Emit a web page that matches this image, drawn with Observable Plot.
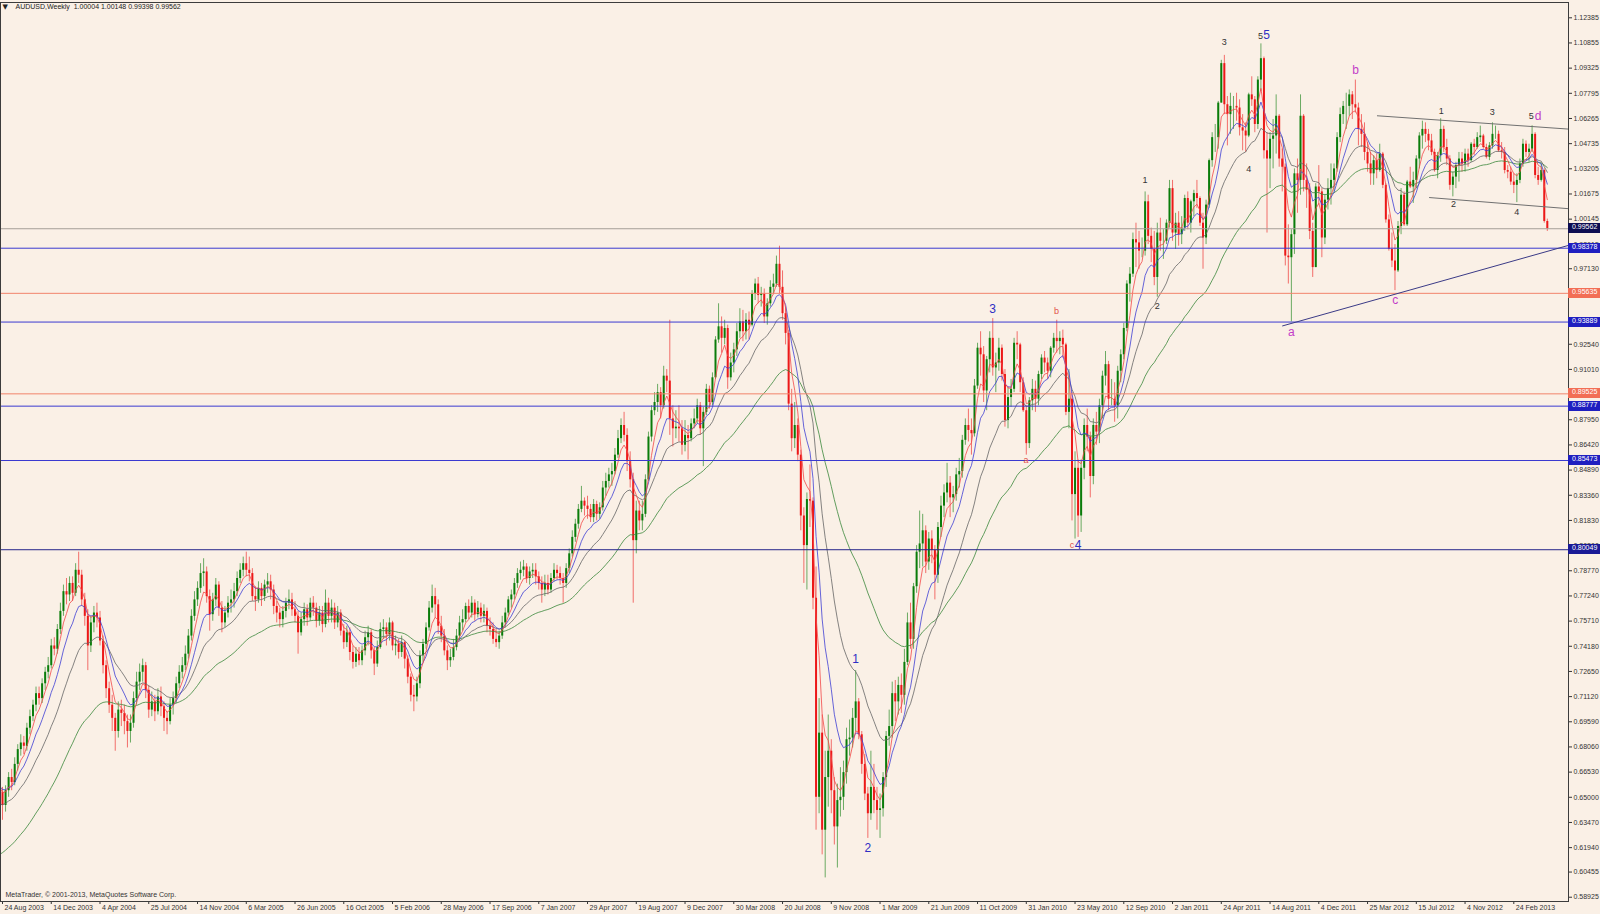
<!DOCTYPE html>
<html><head><meta charset="utf-8">
<script src="https://cdn.jsdelivr.net/npm/d3@7"></script>
<script src="https://cdn.jsdelivr.net/npm/@observablehq/plot@0.6"></script>
<style>
html,body{margin:0;padding:0;background:#faf0e6;}
#chart{position:relative;width:1600px;height:914px;overflow:hidden;background:#faf0e6;}
.lvl{position:absolute;left:1568px;width:32px;height:10px;line-height:10px;font:7px "Liberation Sans",Arial,sans-serif;color:#fff;padding-left:4px;box-sizing:border-box;}
</style></head><body><div id="chart"></div>
<script>
// ---- symbol / last bar ----
const symbolName = "AUDUSD,Weekly";
const copyright = "MetaTrader, \u00a9 2001-2013, MetaQuotes Software Corp.";

// ---- x-axis: one label every 16 weekly bars, starting at bar 0 ----
const xTickLabels = ["24 Aug 2003","14 Dec 2003","4 Apr 2004","25 Jul 2004","14 Nov 2004","6 Mar 2005","26 Jun 2005","16 Oct 2005","5 Feb 2006","28 May 2006","17 Sep 2006","7 Jan 2007","29 Apr 2007","19 Aug 2007","9 Dec 2007","30 Mar 2008","20 Jul 2008","9 Nov 2008","1 Mar 2009","21 Jun 2009","11 Oct 2009","31 Jan 2010","23 May 2010","12 Sep 2010","2 Jan 2011","24 Apr 2011","14 Aug 2011","4 Dec 2011","25 Mar 2012","15 Jul 2012","4 Nov 2012","24 Feb 2013"];
const barsPerLabel = 16;

// ---- y-axis tick labels ----
const yTickLabels = [1.12385,1.10855,1.09325,1.07795,1.06265,1.04735,1.03205,1.01675,1.00145,0.98615,0.97130,0.92540,0.91010,0.87950,0.86420,0.84890,0.83360,0.81830,0.80300,0.78770,0.77240,0.75710,0.74180,0.72650,0.71120,0.69590,0.68060,0.66530,0.65000,0.63470,0.61940,0.60455,0.58925];

// ---- weekly OHLC in pips (x 1e-4), bar 0 = week of 24 Aug 2003 ----
const wkOpen = [
6530,6450,6540,6620,6590,6700,6790,6830,6810,6920,6990,7060,7130,7100,7190,7260,
7300,7420,7400,7520,7630,7750,7730,7800,7740,7880,7850,7700,7600,7420,7560,7620,
7590,7450,7300,7160,7060,6980,6900,7030,7010,6960,6900,6950,7100,7200,7260,7300,
7150,7030,7080,7020,7110,7050,6980,6960,7060,7100,7190,7260,7300,7370,7480,7600,
7700,7770,7860,7870,7720,7610,7700,7790,7650,7560,7620,7680,7700,7750,7830,7880,
7920,7880,7860,7720,7700,7770,7720,7790,7810,7760,7660,7620,7580,7630,7680,7700,
7640,7600,7500,7580,7640,7590,7680,7650,7570,7620,7550,7680,7600,7650,7560,7620,
7510,7440,7500,7380,7320,7370,7330,7390,7470,7500,7390,7310,7410,7520,7530,7490,
7560,7420,7430,7380,7440,7340,7230,7120,7110,7190,7360,7430,7530,7650,7720,7670,
7540,7480,7390,7330,7350,7410,7480,7560,7580,7660,7620,7680,7610,7650,7600,7630,
7540,7520,7460,7440,7480,7560,7620,7700,7730,7800,7860,7880,7900,7830,7870,7880,
7840,7800,7760,7800,7760,7830,7880,7860,7830,7800,7890,7980,8080,8160,8250,8300,
8270,8250,8200,8280,8220,8260,8380,8420,8460,8480,8580,8680,8760,8700,8540,8430,
8060,8240,8180,8220,8430,8690,8850,8900,8960,8880,9060,9030,8800,8740,8750,8740,
8640,8700,8680,8770,8800,8880,8740,8840,8980,8900,9050,9280,9360,9290,9350,9050,
9140,9220,9330,9390,9330,9400,9370,9560,9620,9550,9560,9420,9500,9600,9620,9740,
9600,9440,9320,8890,8680,8760,8580,8210,8030,8310,8300,7710,6500,6890,6300,6620,
6780,6540,6320,6480,6500,6650,6850,6860,6980,7080,6880,6700,6520,6400,6560,6480,
6420,6430,6620,6870,6930,7130,7080,7180,7120,7320,7560,7460,7780,7990,8040,8120,
7930,8070,8000,7850,8140,8270,8350,8410,8320,8340,8460,8480,8670,8760,8730,8710,
9000,9230,9190,8970,9160,9290,9110,9140,9230,9070,8790,8930,8980,9260,9250,9020,
8850,8650,8910,8980,8920,9070,9170,9140,9090,9230,9290,9270,9290,9250,8840,8920,
8340,8500,8210,8500,8760,8690,8450,8760,8720,8880,9060,9130,8920,8920,8880,9090,
9190,9350,9620,9680,9890,9870,9820,9820,10120,9910,9830,9660,9930,9880,9880,9990,
10200,9930,9990,9920,9960,10140,9990,10120,10170,10140,9990,9900,10100,10370,10510,10510,
10720,10960,10710,10650,10700,10700,10690,10570,10550,10520,10770,10740,10590,10860,10990,10430,
10380,10500,10520,10640,10380,10330,9790,9780,9920,10290,10250,10640,10250,10190,9940,9720,
10210,10180,9900,10130,10200,10250,10320,10510,10650,10700,10700,10770,10710,10690,10560,10530,
10420,10350,10290,10370,10310,10410,10220,10010,9830,9760,9700,9970,10160,9980,10240,10210,
10250,10380,10520,10560,10530,10490,10420,10310,10400,10560,10450,10380,10220,10270,10340,10380,
10350,10410,10370,10470,10450,10510,10520,10450,10390,10460,10530,10530,10430,10420,10310,10300,
10240,10220,10250,10350,10470,10420,10440,10530,10280,10250,10310,10000.4];
const wkHigh = [
6560,6570,6650,6670,6740,6820,6880,6870,6950,7030,7090,7170,7170,7220,7290,7350,
7460,7470,7550,7680,7790,7830,7840,7840,7920,7990,7880,7740,7640,7600,7660,7680,
7630,7480,7330,7200,7120,7010,7080,7090,7060,7000,7000,7140,7260,7310,7340,7320,
7180,7140,7120,7160,7170,7080,7020,7100,7140,7230,7300,7350,7420,7520,7640,7750,
7810,7920,7950,7900,7760,7740,7830,7810,7690,7660,7720,7760,7800,7870,7920,7960,
7990,7960,7890,7780,7810,7800,7820,7860,7850,7790,7690,7650,7660,7710,7760,7740,
7690,7630,7620,7680,7670,7710,7720,7680,7660,7660,7760,7710,7700,7680,7660,7640,
7550,7540,7530,7420,7410,7410,7420,7510,7540,7520,7410,7450,7560,7580,7560,7590,
7570,7480,7460,7480,7450,7360,7250,7180,7230,7390,7460,7560,7690,7790,7770,7700,
7600,7520,7420,7400,7460,7520,7600,7640,7680,7700,7720,7700,7690,7680,7670,7650,
7590,7560,7520,7510,7600,7650,7720,7760,7830,7890,7930,7940,7920,7900,7920,7920,
7870,7840,7850,7850,7860,7920,7910,7900,7860,7920,8010,8120,8190,8280,8390,8320,
8330,8280,8310,8300,8290,8420,8470,8500,8530,8620,8730,8800,8840,8740,8600,8470,
8300,8300,8300,8460,8720,8880,8960,9010,8990,9120,9100,9400,8880,8850,8880,8790,
8790,8760,8800,8860,8920,8900,8870,9010,9000,9080,9300,9500,9420,9400,9370,9200,
9260,9380,9470,9460,9440,9450,9580,9650,9660,9600,9590,9530,9640,9680,9790,9850,
9700,9480,9340,8980,8900,8800,8610,8260,8350,8520,8320,7900,7100,7000,6780,7000,
6850,6620,6580,6680,6720,6920,6970,7040,7270,7100,6900,6760,6560,6780,6700,6560,
6520,6650,6900,7030,7200,7210,7230,7250,7400,7620,7680,7800,8030,8240,8220,8150,
8110,8120,8030,8170,8330,8400,8530,8450,8390,8500,8560,8700,8800,8860,8800,9040,
9260,9330,9240,9180,9330,9410,9200,9290,9250,9100,8990,9040,9290,9330,9260,9050,
8880,8930,9040,9030,9090,9190,9210,9170,9240,9320,9400,9330,9340,9260,9100,8960,
8600,8550,8550,8800,8860,8720,8800,8840,8920,9090,9210,9150,9040,9020,9120,9220,
9380,9640,9720,9930,9990,9940,9900,10180,10160,9960,9940,9990,10020,9950,10010,10250,
10250,10050,10060,10030,10160,10180,10130,10190,10250,10150,10050,10130,10380,10540,10590,10730,
10980,11010,10760,10780,10760,10780,10740,10650,10600,10780,10880,10760,10880,11080,11000,10540,
10540,10620,10770,10650,10440,10350,9980,9950,10320,10380,10770,10650,10350,10230,9990,10230,
10340,10200,10160,10260,10350,10350,10540,10690,10730,10780,10800,10790,10860,10720,10650,10600,
10480,10420,10400,10410,10470,10420,10230,10040,9930,9860,10000,10200,10180,10250,10330,10300,
10400,10540,10610,10600,10560,10530,10440,10420,10625,10580,10500,10400,10300,10360,10420,10420,
10440,10440,10480,10500,10540,10580,10530,10470,10480,10600,10580,10550,10480,10450,10340,10330,
10290,10290,10380,10500,10490,10470,10582,10540,10330,10350,10320,10014.8];
const wkLow = [
6360,6410,6500,6540,6570,6660,6750,6760,6780,6880,6960,7020,7060,7070,7150,7220,
7280,7360,7370,7490,7600,7670,7690,7690,7720,7800,7660,7540,7270,7380,7500,7530,
7420,7250,7100,7010,6900,6780,6860,6930,6880,6800,6830,6920,7060,7150,7200,7100,
6980,6990,6960,7000,6990,6900,6880,6940,7000,7070,7160,7220,7270,7340,7450,7570,
7660,7740,7780,7680,7510,7570,7660,7600,7500,7530,7590,7620,7650,7720,7800,7840,
7840,7810,7690,7630,7680,7660,7690,7740,7700,7610,7560,7530,7530,7590,7640,7600,
7560,7370,7480,7540,7540,7570,7600,7530,7540,7500,7530,7560,7560,7520,7530,7480,
7400,7410,7330,7280,7290,7300,7300,7360,7420,7340,7240,7290,7400,7460,7420,7450,
7390,7360,7340,7350,7280,7190,7080,7020,7080,7160,7320,7400,7510,7620,7590,7490,
7440,7360,7270,7290,7330,7390,7450,7510,7560,7580,7590,7570,7590,7560,7560,7500,
7480,7430,7410,7400,7460,7530,7600,7650,7700,7770,7820,7840,7800,7790,7830,7790,
7760,7680,7720,7730,7740,7810,7820,7790,7680,7770,7860,7960,8050,8130,8230,8210,
8190,8170,8170,8180,8190,8240,8330,8380,8390,8460,8560,8650,8660,8480,8380,7680,
7980,8120,8120,8200,8420,8660,8820,8840,8800,8860,8960,8700,8630,8680,8660,8580,
8600,8550,8660,8740,8770,8700,8510,8820,8860,8880,9040,9260,9200,9250,8980,9030,
9080,9180,9290,9270,9280,9280,9360,9520,9500,9480,9380,9370,9480,9560,9600,9560,
9400,9250,8850,8600,8620,8540,8120,7800,7760,8140,7640,6300,6400,6150,6010,6440,
6400,6210,6070,6380,6420,6580,6750,6800,6900,6850,6640,6480,6250,6360,6400,6300,
6250,6380,6560,6810,6860,6960,7000,7010,7060,7300,7400,7400,7740,7890,7900,7860,
7880,7920,7700,7800,8080,8200,8290,8200,8230,8300,8380,8440,8640,8660,8580,8690,
8980,9060,8900,8850,9080,9060,8960,9090,9030,8750,8740,8870,8960,9160,8960,8840,
8580,8620,8850,8840,8880,9040,9080,9040,9050,9200,9200,9190,9170,8820,8740,8180,
8070,8080,8110,8430,8600,8320,8400,8640,8650,8800,9000,8850,8880,8780,8800,9020,
9160,9330,9510,9660,9720,9710,9780,9790,9860,9750,9610,9540,9820,9770,9860,9960,
9880,9830,9850,9860,9940,9950,9930,10030,10080,9970,9710,9860,10080,10330,10420,10440,
10720,10650,10460,10530,10560,10610,10520,10430,10420,10510,10700,10540,10560,10790,10380,9930,
10200,10320,10410,10330,10180,9730,9620,9390,9800,10050,10160,10180,10080,9890,9660,9720,
10100,9780,9860,10070,10100,10180,10300,10480,10590,10560,10640,10620,10660,10460,10450,10370,
10300,10220,10220,10260,10300,10200,9990,9820,9720,9580,9690,9920,9970,9970,10200,10110,
10200,10320,10440,10480,10430,10400,10300,10260,10360,10420,10340,10190,10150,10200,10240,10300,
10300,10330,10360,10400,10440,10480,10440,10380,10370,10440,10500,10420,10380,10290,10260,10220,
10170,10115,10230,10330,10390,10360,10420,10260,10220,10240,9990,9939.8];
const wkClose = [
6450,6540,6620,6590,6700,6790,6830,6810,6920,6990,7060,7130,7100,7190,7260,7300,
7420,7400,7520,7630,7750,7730,7800,7740,7880,7850,7700,7600,7420,7560,7620,7590,
7450,7300,7160,7060,6980,6900,7030,7010,6960,6900,6950,7100,7200,7260,7300,7150,
7030,7080,7020,7110,7050,6980,6960,7060,7100,7190,7260,7300,7370,7480,7600,7700,
7770,7860,7870,7720,7610,7700,7790,7650,7560,7620,7680,7700,7750,7830,7880,7920,
7880,7860,7720,7700,7770,7720,7790,7810,7760,7660,7620,7580,7630,7680,7700,7640,
7600,7500,7580,7640,7590,7680,7650,7570,7620,7550,7680,7600,7650,7560,7620,7510,
7440,7500,7380,7320,7370,7330,7390,7470,7500,7390,7310,7410,7520,7530,7490,7560,
7420,7430,7380,7440,7340,7230,7120,7110,7190,7360,7430,7530,7650,7720,7670,7540,
7480,7390,7330,7350,7410,7480,7560,7580,7660,7620,7680,7610,7650,7600,7630,7540,
7520,7460,7440,7480,7560,7620,7700,7730,7800,7860,7880,7900,7830,7870,7880,7840,
7800,7760,7800,7760,7830,7880,7860,7830,7800,7890,7980,8080,8160,8250,8300,8270,
8250,8200,8280,8220,8260,8380,8420,8460,8480,8580,8680,8760,8700,8540,8430,8060,
8240,8180,8220,8430,8690,8850,8900,8960,8880,9060,9030,8800,8740,8750,8740,8640,
8700,8680,8770,8800,8880,8740,8840,8980,8900,9050,9280,9360,9290,9350,9050,9140,
9220,9330,9390,9330,9400,9370,9560,9620,9550,9560,9420,9500,9600,9620,9740,9600,
9440,9320,8890,8680,8760,8580,8210,8030,8310,8300,7710,6500,6890,6300,6620,6780,
6540,6320,6480,6500,6650,6850,6860,6980,7080,6880,6700,6520,6400,6560,6480,6420,
6430,6620,6870,6930,7130,7080,7180,7120,7320,7560,7460,7780,7990,8040,8120,7930,
8070,8000,7850,8140,8270,8350,8410,8320,8340,8460,8480,8670,8760,8730,8710,9000,
9230,9190,8970,9160,9290,9110,9140,9230,9070,8790,8930,8980,9260,9250,9020,8850,
8650,8910,8980,8920,9070,9170,9140,9090,9230,9290,9270,9290,9250,8840,8920,8340,
8500,8210,8500,8760,8690,8450,8760,8720,8880,9060,9130,8920,8920,8880,9090,9190,
9350,9620,9680,9890,9870,9820,9820,10120,9910,9830,9660,9930,9880,9880,9990,10200,
9930,9990,9920,9960,10140,9990,10120,10170,10140,9990,9900,10100,10370,10510,10510,10720,
10960,10710,10650,10700,10700,10690,10570,10550,10520,10770,10740,10590,10860,10990,10430,10380,
10500,10520,10640,10380,10330,9790,9780,9920,10290,10250,10640,10250,10190,9940,9720,10210,
10180,9900,10130,10200,10250,10320,10510,10650,10700,10700,10770,10710,10690,10560,10530,10420,
10350,10290,10370,10310,10410,10220,10010,9830,9760,9700,9970,10160,9980,10240,10210,10250,
10380,10520,10560,10530,10490,10420,10310,10400,10560,10450,10380,10220,10270,10340,10380,10350,
10410,10370,10470,10450,10510,10520,10450,10390,10460,10530,10530,10430,10420,10310,10300,10240,
10220,10250,10350,10470,10420,10440,10530,10280,10250,10310,10000.4,9956.2];
// closes of the 50 weeks before the first visible bar (off-chart; only feed the moving averages)
const priorClose = [5450,5440,5470,5430,5450,5420,5480,5520,5540,5560,5620,5640,5600,5630,5660,5590,5620,5630,5720,5810,5860,5880,5970,5960,6040,6070,6050,6000,5950,6030,6100,6150,6260,6260,6380,6510,6530,6550,6600,6640,6730,6720,6680,6650,6700,6620,6550,6540,6530,6560];

// ---- exponential moving-average periods ----
const maPeriods = [50, 21, 10, 5];

// ---- horizontal levels drawn on the chart ----
const levelValues = [0.99562, 0.98378, 0.95635, 0.93889, 0.89525, 0.88777, 0.85473, 0.80049];
const levelKinds  = ["bid", "blue", "salmon", "blue", "salmon", "blue", "blue", "navy"];

// ---- trend lines (bar index, price) ----
const trendFrom = [[451.1, 1.0643], [468.2, 1.0146], [420.0, 0.9365]];
const trendTo   = [[513.95, 1.0562], [513.95, 1.0078], [513.95, 0.9855]];
const trendKinds = ["grey", "grey", "navy"];

// ---- wave labels (text, bar index, price) ----
const waveBlue    = [["1",280,0.7342],["2",284,0.6189],["3",324.9,0.9470],["4",353,0.8034],["5",414.9,1.1133]];
const waveBlack   = [["1",375,1.0252],["2",379,0.9488],["3",401,1.1089],["4",409,1.0319],["5",412.9,1.1126],["1",472.2,1.0674],["2",476.2,1.0103],["3",488.9,1.0668],["4",497,1.0060],["5",501.7,1.0643]];
const waveMagenta = [["a",423,0.9327],["b",444.1,1.0922],["c",457.1,0.9525],["d",504,1.0643]];
const waveRed     = [["a",335.9,0.8552],["b",345.9,0.9458],["c",351,0.8034]];

// ================= build =================
const P = 1e4;
const bars = wkClose.map((c, i) => ({i, open: wkOpen[i]/P, high: wkHigh[i]/P, low: wkLow[i]/P, close: c/P}));
const maRows = priorClose.map((c, k) => ({i: k - priorClose.length, close: c/P}))
  .concat(bars.map(d => ({i: d.i, close: d.close})));
// exponential moving averages of the closes (indicator lines)
maPeriods.forEach(k => {
  const a = 2 / (k + 1);
  let e;
  maRows.forEach(r => { e = (e === undefined) ? r.close : a * r.close + (1 - a) * e; r["ema" + k] = e; });
});
const last = bars[bars.length - 1];
const title = `${symbolName}\u00a0\u00a0${last.open.toFixed(5)} ${last.high.toFixed(5)} ${last.low.toFixed(5)} ${last.close.toFixed(5)}`;

const BULL = "#0a7c0a", BEAR = "#ec1818";
const maColor = {50: "#3c883c", 21: "#666666", 10: "#4040d4", 5: "#f24848"};
const levelLine = {bid: "#a59f98", blue: "#3a3ad0", salmon: "#f2846c", navy: "#24248a"};
const levelBox  = {bid: "#0d0d52", blue: "#1f1fc0", salmon: "#f26e55", navy: "#1a1a96"};
const trendColor = {grey: "#707070", navy: "#3a3a86"};
const FONT = "Liberation Sans, Arial, sans-serif";

const levels = levelValues.map((v, k) => ({value: v, kind: levelKinds[k]}));
const trends = trendFrom.map((a, k) => ({x1: a[0], y1: a[1], x2: trendTo[k][0], y2: trendTo[k][1], kind: trendKinds[k]}));
const toLab = arr => arr.map(([t, i, p]) => ({t, i, p}));

const W = 1600, H = 914;
const xTicks = xTickLabels.map((_, k) => k * barsPerLabel);
const dir = d => d.close >= d.open ? BULL : BEAR;

const plot = Plot.plot({
  width: W, height: H,
  marginLeft: 0, marginRight: 32, marginTop: 2, marginBottom: 13,
  style: {background: "#faf0e6", fontFamily: FONT, fontSize: "7px", color: "#333"},
  x: {domain: [-0.66, 513.95], axis: "bottom", ticks: xTicks, tickFormat: () => "", tickSize: 3, label: null},
  y: {domain: [0.58665, 1.13315], axis: "right", ticks: yTickLabels, tickFormat: d => d.toFixed(5), tickSize: 3, tickPadding: 2, label: null},
  marks: [
    // candles
    Plot.ruleX(bars, {x: "i", y1: "low", y2: "high", stroke: dir, strokeWidth: 1, strokeOpacity: 0.6}),
    Plot.ruleX(bars, {x: "i", y1: "open", y2: "close", stroke: dir, strokeWidth: 2}),
    // moving averages
    ...maPeriods.map(k => Plot.lineY(maRows, {x: "i", y: "ema" + k, stroke: maColor[k], strokeWidth: 1, strokeOpacity: 0.8, clip: true})),
    // horizontal levels
    Plot.ruleY(levels, {y: "value", stroke: d => levelLine[d.kind], strokeWidth: 1}),
    // trend lines
    Plot.link(trends, {x1: "x1", y1: "y1", x2: "x2", y2: "y2", stroke: d => trendColor[d.kind], strokeWidth: 1, clip: true}),
    // wave labels
    Plot.text(toLab(waveBlue), {x: "i", y: "p", text: "t", fill: "#2e2ec4", fontSize: 12, fontFamily: FONT}),
    Plot.text(toLab(waveMagenta), {x: "i", y: "p", text: "t", fill: "#c23cc8", fontSize: 12, fontFamily: FONT}),
    Plot.text(toLab(waveBlack), {x: "i", y: "p", text: "t", fill: "#333333", fontSize: 9, fontFamily: FONT}),
    Plot.text(toLab(waveRed), {x: "i", y: "p", text: "t", fill: "#e2504a", fontSize: 9, fontFamily: FONT}),
    // x labels (left aligned at tick, MT4 style)
    Plot.text(xTickLabels, {x: (d, k) => k * barsPerLabel, text: d => d, frameAnchor: "bottom", dy: 6, dx: 2, textAnchor: "start", lineAnchor: "middle", fill: "#333", fontSize: 7}),
    // title and copyright
    Plot.text(["\u25bc"], {frameAnchor: "top-left", dx: 2, dy: 2, lineAnchor: "top", fontSize: 7, fill: "#222", fontFamily: "DejaVu Sans"}),
    Plot.text([title], {frameAnchor: "top-left", dx: 15, dy: 2, lineAnchor: "top", fontSize: 7, fill: "#222", fontFamily: FONT}),
    Plot.text([copyright], {frameAnchor: "bottom-left", dx: 5, dy: -7, lineAnchor: "middle", fontSize: 7, fill: "#333", fontFamily: FONT}),
    Plot.frame({stroke: "#3c3c3c", strokeWidth: 1})
  ]
});
const host = document.getElementById("chart");
host.appendChild(plot);

// price boxes for the horizontal levels on the right scale
const ys = plot.scale("y");
const yPix = v => ys.apply ? ys.apply(v) : (ys.range[0] + (v - ys.domain[0]) / (ys.domain[1] - ys.domain[0]) * (ys.range[1] - ys.range[0]));
levels.forEach(l => {
  const div = document.createElement("div");
  div.className = "lvl";
  div.style.top = (yPix(l.value) - 5) + "px";
  div.style.background = levelBox[l.kind];
  div.textContent = l.value.toFixed(5);
  host.appendChild(div);
});
</script></body></html>
